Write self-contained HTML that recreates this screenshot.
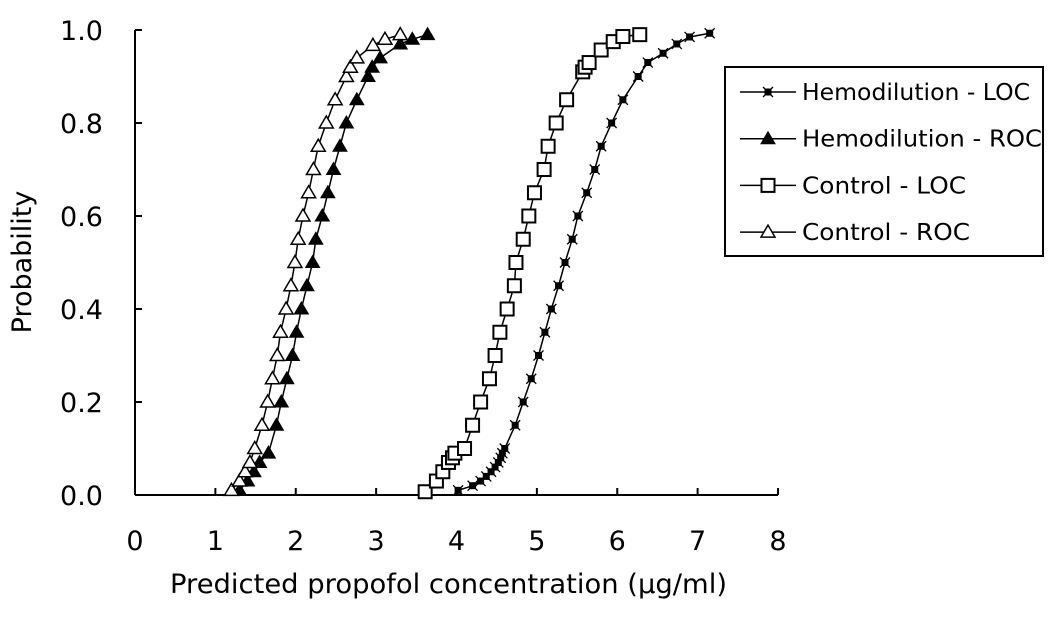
<!DOCTYPE html>
<html><head><meta charset="utf-8"><style>
body{margin:0;background:#fff;}
svg{display:block;font-family:"DejaVu Sans","Liberation Sans",sans-serif;}
</style></head><body>
<svg id="chart" width="1063" height="618" viewBox="0 0 1063 618">
<defs><clipPath id="lgclip"><rect x="726" y="68" width="315" height="187"/></clipPath></defs>
<g id="axes"></g>
<g id="series"></g>
<text x="170" y="593" font-size="27" textLength="557" lengthAdjust="spacingAndGlyphs">Predicted propofol concentration (μg/ml)</text>
<text transform="translate(31,262) rotate(-90)" font-size="27" text-anchor="middle">Probability</text>
<g>
<rect x="725" y="67" width="318" height="189" fill="#fff" stroke="#000" stroke-width="2"/>
<g id="legend-items" clip-path="url(#lgclip)"></g>
</g>
</svg>
<script>
const xTicks=[0,1,2,3,4,5,6,7,8];
const yTicks=[0.0,0.2,0.4,0.6,0.8,1.0];
const yTickLabels=["0.0","0.2","0.4","0.6","0.8","1.0"];
const seriesNames=["Hemodilution - LOC","Hemodilution - ROC","Control - LOC","Control - ROC"];
const hemoLocX=[4.02,4.2,4.3,4.37,4.43,4.48,4.52,4.55,4.57,4.6,4.73,4.83,4.93,5.02,5.1,5.18,5.27,5.35,5.44,5.51,5.62,5.72,5.8,5.93,6.07,6.26,6.38,6.57,6.74,6.9,7.15];
const hemoLocP=[0.01,0.02,0.03,0.04,0.05,0.06,0.07,0.08,0.09,0.1,0.15,0.2,0.25,0.3,0.35,0.4,0.45,0.5,0.55,0.6,0.65,0.7,0.75,0.8,0.85,0.9,0.93,0.95,0.97,0.985,0.993];
const hemoRocX=[1.3,1.4,1.48,1.55,1.66,1.76,1.82,1.89,1.96,2.01,2.07,2.14,2.21,2.25,2.33,2.4,2.47,2.55,2.63,2.76,2.9,2.95,3.05,3.3,3.45,3.64];
const hemoRocP=[0.01,0.03,0.05,0.07,0.09,0.15,0.2,0.25,0.3,0.35,0.4,0.45,0.5,0.55,0.6,0.65,0.7,0.75,0.8,0.85,0.9,0.92,0.94,0.97,0.98,0.99];
const ctrlLocX=[3.61,3.75,3.83,3.9,3.95,3.98,4.1,4.2,4.3,4.41,4.48,4.54,4.63,4.72,4.74,4.83,4.9,4.97,5.09,5.14,5.24,5.37,5.57,5.6,5.65,5.8,5.95,6.07,6.28];
const ctrlLocP=[0.007,0.03,0.05,0.07,0.08,0.09,0.1,0.15,0.2,0.25,0.3,0.35,0.4,0.45,0.5,0.55,0.6,0.65,0.7,0.75,0.8,0.85,0.91,0.92,0.93,0.957,0.975,0.986,0.99];
const ctrlRocX=[1.2,1.3,1.37,1.43,1.49,1.58,1.65,1.71,1.77,1.81,1.88,1.94,1.99,2.03,2.09,2.16,2.22,2.28,2.38,2.49,2.63,2.68,2.76,2.96,3.11,3.3];
const ctrlRocP=[0.01,0.03,0.05,0.07,0.1,0.15,0.2,0.25,0.3,0.35,0.4,0.45,0.5,0.55,0.6,0.65,0.7,0.75,0.8,0.85,0.9,0.92,0.94,0.967,0.98,0.99];

const NS="http://www.w3.org/2000/svg";
const X0=135,X1=778,Y0=495,Y1=30;
function sx(v){return X0+(v-0)/(8-0)*(X1-X0);}
function sy(v){return Y0-(v-0)/(1-0)*(Y0-Y1);}
function mk(tag,attrs,parent){const e=document.createElementNS(NS,tag);for(const k in attrs)e.setAttribute(k,attrs[k]);parent.appendChild(e);return e;}
const axes=document.getElementById('axes');
let l=mk('line',{x1:X0,y1:Y1,x2:X0,y2:Y0,stroke:'#000','stroke-width':2},axes);


l=mk('line',{x1:X0,y1:Y0,x2:X1,y2:Y0,stroke:'#000','stroke-width':2},axes);


xTicks.forEach(t=>{
 const tk=mk('line',{x1:sx(t),y1:Y0,x2:sx(t),y2:Y0-7,stroke:'#000','stroke-width':2},axes);
 
 
 const tx=mk('text',{x:sx(t),y:550,'font-size':27,'text-anchor':'middle'},axes);
 tx.textContent=t;
 
 
});
yTicks.forEach((t,i)=>{
 const tk=mk('line',{x1:X0,y1:sy(t),x2:X0+7,y2:sy(t),stroke:'#000','stroke-width':2},axes);
 
 
 const tx=mk('text',{x:103,y:sy(t)+10,'font-size':27,'text-anchor':'end'},axes);
 tx.textContent=yTickLabels[i];
 
 
});
function marker(type,x,y,g){
 let e;
 if(type==='xsq'){e=mk('rect',{x:x-3.5,y:y-3.5,width:7,height:7,fill:'#000'},g);
   mk('path',{d:`M${x-5} ${y-5}L${x+5} ${y+5}M${x-5} ${y+5}L${x+5} ${y-5}`,stroke:'#000','stroke-width':1.3},g);}
 else if(type==='ftri')e=mk('path',{d:`M${x} ${y-7}L${x+7} ${y+5}L${x-7} ${y+5}Z`,fill:'#000',stroke:'#000','stroke-width':1},g);
 else if(type==='osq')e=mk('rect',{x:x-6.5,y:y-6.5,width:13,height:13,fill:'#fff',stroke:'#000','stroke-width':2},g);
 else e=mk('path',{d:`M${x} ${y-7}L${x+7} ${y+5}L${x-7} ${y+5}Z`,fill:'#fff',stroke:'#000','stroke-width':1.5},g);
 return e;
}
const sdefs=[[hemoLocX,hemoLocP,'xsq','hemodilution-loc'],[hemoRocX,hemoRocP,'ftri','hemodilution-roc'],[ctrlLocX,ctrlLocP,'osq','control-loc'],[ctrlRocX,ctrlRocP,'otri','control-roc']];
const sg=document.getElementById('series');
sdefs.forEach(([xs,ps,type,name])=>{
 const g=mk('g',{},sg);
 
 
 const ln=mk('polyline',{points:xs.map((v,i)=>sx(v)+','+sy(ps[i])).join(' '),fill:'none',stroke:'#000','stroke-width':1.5},g);
 
 
 xs.forEach((v,i)=>{
   const p=marker(type,sx(v),sy(ps[i]),g);
   
   
 });
});
const legendLens=[228,240,164,168];
const lg=document.getElementById('legend-items');
seriesNames.forEach((n,i)=>{
 const y=92+i*46.7;
 const g=mk('g',{},lg);
 
 
 mk('line',{x1:740,y1:y,x2:796,y2:y,stroke:'#000','stroke-width':1.5},g);
 marker(sdefs[i][2],768,y,g);
 const t=mk('text',{x:802,y:y+8,'font-size':23,textLength:legendLens[i],lengthAdjust:'spacingAndGlyphs'},g);
 t.textContent=n;
});
</script>
</body></html>
